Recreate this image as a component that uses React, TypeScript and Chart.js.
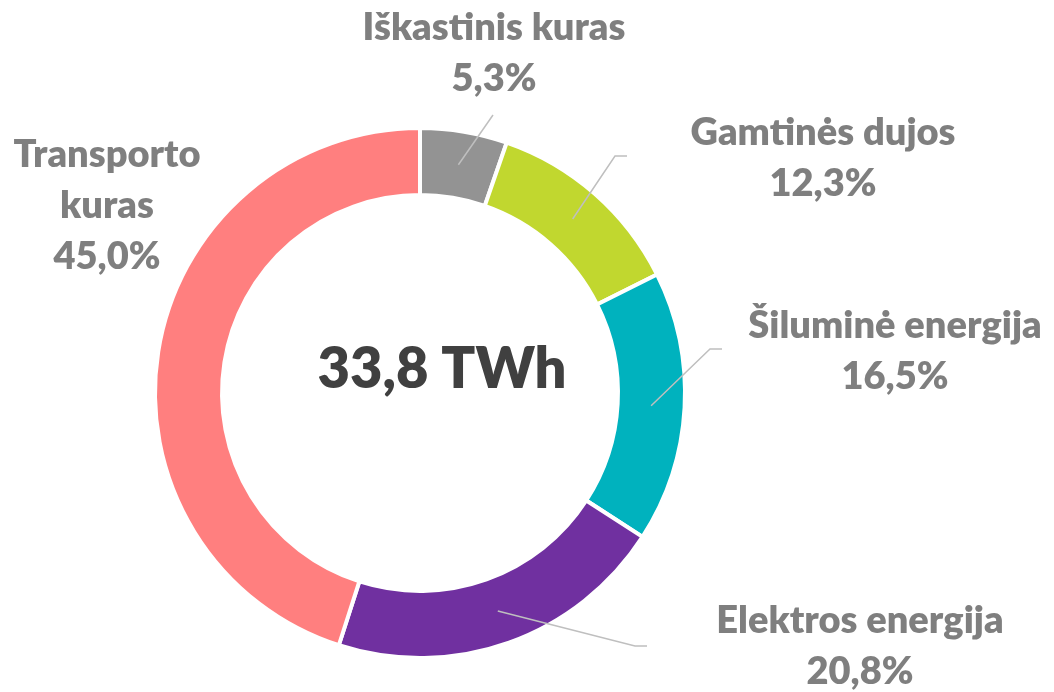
import React, { useEffect, useRef } from 'react';
import { Chart, registerables } from 'chart.js';

Chart.register(...registerables);

const categories = ['Iškastinis kuras', 'Gamtinės dujos', 'Šiluminė energija', 'Elektros energija', 'Transporto kuras'];
const shares = [5.3, 12.3, 16.5, 20.8, 45.0];
const colors = ['#939393', '#C1D72F', '#00B2BE', '#7030A0', '#FF7F7F'];
const totalLabel = '33,8 TWh';

// label placement (center x, first baseline y), optional leader elbow/end points
const labelLayout = [
  { x: 494, y: 40, split: false, elbow: [493, 115], end: null },
  { x: 823, y: 145, split: false, elbow: [615, 156], end: [627, 156] },
  { x: 895, y: 338, split: false, elbow: [710, 349], end: [722, 349] },
  { x: 860, y: 633, split: false, elbow: [635, 646], end: [647, 646] },
  { x: 107, y: 167, split: true, elbow: null, end: null },
];

const FONT = 'Lato, "Open Sans", sans-serif';
const LABEL_SIZE = 38;
const LINE_H = 51;

const labelPlugin = {
  id: 'donutLabels',
  afterDraw(chart: any) {
    const ctx = chart.ctx;
    const meta = chart.getDatasetMeta(0);
    ctx.save();
    // leader lines
    meta.data.forEach((arc: any, i: number) => {
      const lay = labelLayout[i];
      if (!lay.elbow) return;
      const p = arc.getProps(['x', 'y', 'startAngle', 'endAngle', 'innerRadius', 'outerRadius'], true);
      const mid = (p.startAngle + p.endAngle) / 2;
      const r = (p.innerRadius + p.outerRadius) / 2;
      ctx.beginPath();
      ctx.moveTo(p.x + r * Math.cos(mid), p.y + r * Math.sin(mid));
      ctx.lineTo(lay.elbow[0], lay.elbow[1]);
      if (lay.end) ctx.lineTo(lay.end[0], lay.end[1]);
      ctx.strokeStyle = '#BFBFBF';
      ctx.lineWidth = 1.5;
      ctx.stroke();
    });
    // labels
    ctx.fillStyle = '#7F7F7F';
    ctx.font = `800 ${LABEL_SIZE}px ${FONT}`;
    ctx.textAlign = 'center';
    ctx.textBaseline = 'alphabetic';
    categories.forEach((name, i) => {
      const lay = labelLayout[i];
      const lines = lay.split ? name.split(' ') : [name];
      lines.push(shares[i].toFixed(1).replace('.', ',') + '%');
      lines.forEach((t, k) => ctx.fillText(t, lay.x, lay.y + k * LINE_H));
    });
    // center total
    ctx.fillStyle = '#404040';
    ctx.font = `800 56px ${FONT}`;
    ctx.fillText(totalLabel, 442, 388);
    ctx.restore();
  },
};

export default function App() {
  const ref = useRef<HTMLCanvasElement>(null);
  useEffect(() => {
    if (!ref.current) return;
    const chart = new Chart(ref.current, {
      type: 'doughnut',
      data: {
        labels: categories,
        datasets: [
          {
            data: shares,
            backgroundColor: colors,
            borderColor: '#FFFFFF',
            borderWidth: 4,
            radius: 265,
            cutout: '74.7%',
          } as any,
        ],
      },
      options: {
        responsive: false,
        animation: false,
        layout: { padding: { left: 156, right: 370, top: 129, bottom: 35 } },
        plugins: { legend: { display: false }, tooltip: { enabled: false } },
      },
      plugins: [labelPlugin],
    });
    return () => chart.destroy();
  }, []);
  return (
    <div style={{ position: 'fixed', left: 0, top: 0, width: 1054, height: 692, background: '#fff' }}>
      <canvas ref={ref} width={1054} height={692} style={{ display: 'block' }} />
    </div>
  );
}
